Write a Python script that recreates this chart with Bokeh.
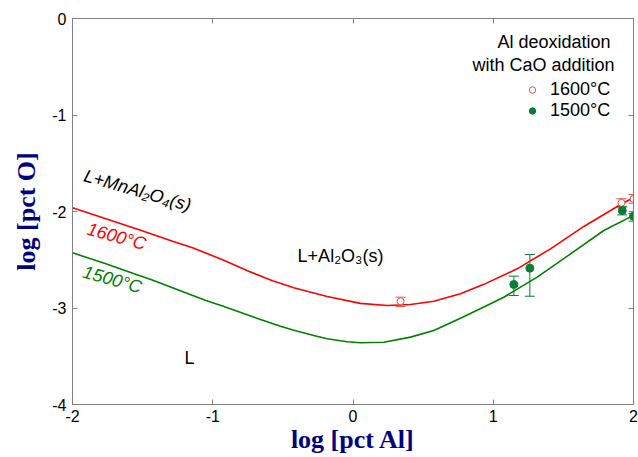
from bokeh.plotting import figure
from bokeh.models import (LinearAxis, Range1d, Label, Legend, LegendItem, Whisker,
                          ColumnDataSource, FixedTicker, TeeHead)
from bokeh.embed import file_html
from bokeh.resources import INLINE

# ---- data ----
red_x = [-2.0, -1.762, -1.525, -1.287, -1.144, -0.93, -0.74, -0.574, -0.422, -0.28,
         -0.184, 0.053, 0.244, 0.41, 0.576, 0.766, 0.933, 1.17, 1.408, 1.646, 1.884, 2.0]
red_y = [-1.962, -2.076, -2.19, -2.308, -2.376, -2.50, -2.622, -2.718, -2.79, -2.845,
         -2.88, -2.952, -2.974, -2.964, -2.93, -2.853, -2.755, -2.594, -2.387, -2.155,
         -1.948, -1.855]

green_x = [-2.0, -1.762, -1.525, -1.441, -1.287, -1.049, -0.93, -0.755, -0.66, -0.517,
           -0.422, -0.28, -0.184, -0.041, 0.053, 0.22, 0.41, 0.576, 0.766, 0.933, 1.075,
           1.313, 1.551, 1.788, 2.0]
green_y = [-2.428, -2.542, -2.663, -2.705, -2.79, -2.922, -2.98, -3.07, -3.12, -3.19,
           -3.23, -3.285, -3.318, -3.35, -3.36, -3.355, -3.302, -3.233, -3.106, -2.99,
           -2.888, -2.68, -2.44, -2.197, -2.04]

pts1600_x = [0.339, 1.914, 2.0]
pts1600_y = [-2.93, -1.91, -1.87]
pts1600_lo = [-2.985, -1.955, -1.915]
pts1600_hi = [-2.888, -1.868, -1.824]

pts1500_x = [1.147, 1.261, 1.92, 2.0]
pts1500_y = [-2.756, -2.587, -1.99, -2.05]
pts1500_lo = [-2.87, -2.878, -2.035, -2.10]
pts1500_hi = [-2.67, -2.446, -1.95, -2.02]

x_ticks = [-2, -1, 0, 1, 2]
y_ticks = [-4, -3, -2, -1, 0]
x_tick_labels = ["-2", "-1", "0", "1", "2"]
y_tick_labels = ["-4", "-3", "-2", "-1", "0"]

RED = "#ff0000"
RED_PT = "#f05050"
GREEN = "#008000"
GREEN_PT = "#0a7d32"
NAVY = "#00007f"
AXIS_GRAY = "#808080"
SANS = "Liberation Sans"
SERIF = "Liberation Serif"

p = figure(width=638, height=457, x_range=Range1d(-2, 2), y_range=Range1d(-4, 0),
           output_backend="svg", toolbar_location=None,
           min_border_left=72, min_border_right=5, min_border_top=18, min_border_bottom=53)
p.grid.visible = False
p.outline_line_color = AXIS_GRAY
p.background_fill_color = "white"
p.border_fill_color = "white"


def style_axis(ax, ticks, labels, show_labels=True):
    ax.ticker = FixedTicker(ticks=ticks)
    ax.major_tick_in = 5
    ax.major_tick_out = 0
    ax.minor_tick_line_color = None
    ax.axis_line_color = AXIS_GRAY
    ax.major_tick_line_color = AXIS_GRAY
    if show_labels:
        ax.major_label_overrides = {t: l for t, l in zip(ticks, labels)}
        ax.major_label_text_font = SANS
        ax.major_label_text_font_size = "16px"
        ax.major_label_text_color = "black"
    else:
        ax.major_label_overrides = {t: "" for t in ticks}
        ax.major_label_standoff = 0


xa = p.xaxis[0]
style_axis(xa, x_ticks, x_tick_labels)
xa.major_label_standoff = 5
xa.axis_label = "log [pct Al]"
xa.axis_label_text_font = SERIF
xa.axis_label_text_font_style = "bold"
xa.axis_label_text_font_size = "26px"
xa.axis_label_text_color = NAVY
xa.axis_label_standoff = 0

ya = p.yaxis[0]
style_axis(ya, y_ticks, y_tick_labels)
ya.major_label_standoff = 6
ya.axis_label = "log [pct O]"
ya.axis_label_text_font = SERIF
ya.axis_label_text_font_style = "bold"
ya.axis_label_text_font_size = "26px"
ya.axis_label_text_color = NAVY
ya.axis_label_standoff = 8

top = LinearAxis()
style_axis(top, x_ticks, x_tick_labels, show_labels=False)
p.add_layout(top, "above")
right = LinearAxis()
style_axis(right, y_ticks, y_tick_labels, show_labels=False)
p.add_layout(right, "right")

# curves
p.line(red_x, red_y, line_color=RED, line_width=1.6, line_join="round")
p.line(green_x, green_y, line_color=GREEN, line_width=1.6, line_join="round")

# error bars
src16 = ColumnDataSource(dict(x=pts1600_x, y=pts1600_y, lo=pts1600_lo, hi=pts1600_hi))
src15 = ColumnDataSource(dict(x=pts1500_x, y=pts1500_y, lo=pts1500_lo, hi=pts1500_hi))
for src, col in ((src16, RED_PT), (src15, GREEN_PT)):
    w = Whisker(source=src, base="x", lower="lo", upper="hi", dimension="height",
                line_color=col, line_width=1,
                upper_head=TeeHead(size=10, line_color=col, line_width=1),
                lower_head=TeeHead(size=10, line_color=col, line_width=1))
    p.add_layout(w)

r16 = p.scatter("x", "y", source=src16, marker="circle", size=7,
                fill_color="white", line_color=RED_PT, line_width=1)
r15 = p.scatter("x", "y", source=src15, marker="circle", size=8,
                fill_color=GREEN_PT, line_color=GREEN_PT)

legend = Legend(items=[LegendItem(label="1600°C", renderers=[r16]),
                       LegendItem(label="1500°C", renderers=[r15])],
                location=(452, 283), border_line_color=None, background_fill_alpha=0,
                padding=0, margin=0, glyph_width=16, glyph_height=21, label_height=21,
                spacing=0, label_standoff=10, label_text_font=SANS,
                label_text_font_size="18px", label_text_color="black")
p.add_layout(legend)


def lab(x, y, text, color="black", italic=False, angle=0.0, align="center"):
    p.add_layout(Label(x=x, y=y, text=text, text_color=color, angle=angle,
                       text_align=align, text_baseline="middle", text_font=SANS,
                       text_font_size="18px",
                       text_font_style="italic" if italic else "normal"))


lab(1.433, -0.2435, "Al deoxidation")
lab(1.358, -0.477, "with CaO addition")
lab(-1.537, -1.782, "L+MnAl\u2082O\u2084(s)", italic=True, angle=-0.28)
lab(-1.686, -2.259, "1600°C", color=RED, italic=True, angle=-0.27)
lab(-1.715, -2.705, "1500°C", color=GREEN, italic=True, angle=-0.27)
lab(-0.089, -2.466, "L+Al\u2082O\u2083(s)")
lab(-1.166, -3.523, "L")

open("out.html", "w").write(file_html(p, INLINE))
